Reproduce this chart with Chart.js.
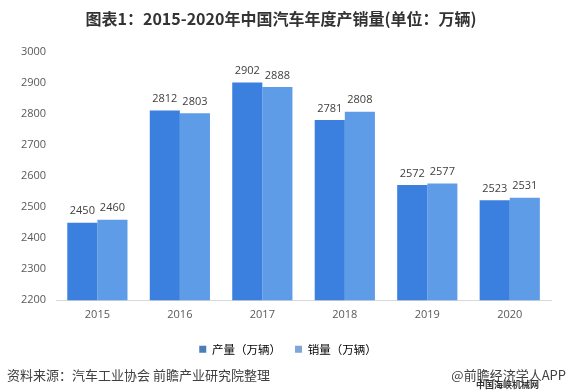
<!DOCTYPE html>
<html>
<head>
<meta charset="utf-8">
<script src="https://cdn.jsdelivr.net/npm/chart.js@4"></script>
<style>
    body { margin: 0; background: #fff; }
    #wrap { position: relative; width: 568px; height: 392px; }
    .note { position: absolute; font-family: "Noto Sans CJK SC", sans-serif; color: #404040; white-space: nowrap; }
</style>
</head>
<body>
<div id="wrap">
    <canvas id="chart" width="568" height="392"></canvas>
    <div class="note" style="left:7px; top:365px; font-size:13px;">资料来源：汽车工业协会 前瞻产业研究院整理</div>
    <div class="note" style="right:2px; top:365px; font-size:13px;">@前瞻经济学人APP</div>
    <div class="note" style="right:29px; top:379px; font-size:9px; line-height:11px; font-weight:bold; color:#333;">中国海峡机械网</div>
</div>
<script>
const anios = ['2015', '2016', '2017', '2018', '2019', '2020'];
const produccion = [2450, 2812, 2902, 2781, 2572, 2523];
const ventas = [2460, 2803, 2888, 2808, 2577, 2531];
const ticksY = [2200, 2300, 2400, 2500, 2600, 2700, 2800, 2900, 3000];

const fuenteNum = '"Open Sans", "Noto Sans", sans-serif';

// Etiquetas de valores sobre las barras
const etiquetasBarras = {
    id: 'etiquetasBarras',
    afterDatasetsDraw(chart) {
        const ctx = chart.ctx;
        ctx.save();
        ctx.font = '11px ' + fuenteNum;
        ctx.fillStyle = '#404040';
        ctx.textAlign = 'center';
        ctx.textBaseline = 'bottom';
        chart.data.datasets.forEach((ds, i) => {
            chart.getDatasetMeta(i).data.forEach((bar, j) => {
                ctx.fillText(ds.data[j], bar.x, bar.y - 6);
            });
        });
        ctx.restore();
    }
};

// Mover un poco la leyenda a la derecha
const moverLeyenda = {
    id: 'moverLeyenda',
    afterLayout(chart) {
        const l = chart.legend;
        l.left += 7; l.right += 7;
    }
};

new Chart(document.getElementById('chart'), {
    type: 'bar',
    data: {
        labels: anios,
        datasets: [
            { label: '产量（万辆）', data: produccion, backgroundColor: '#3b7fdf' },
            { label: '销量（万辆）', data: ventas, backgroundColor: '#5f9ce8' }
        ]
    },
    options: {
        responsive: false,
        animation: false,
        categoryPercentage: 0.73,
        barPercentage: 1.0,
        layout: { padding: { left: 11, right: 17, top: 0, bottom: 27 } },
        scales: {
            x: {
                grid: { display: false, drawTicks: false },
                border: { color: '#d9d9d9' },
                ticks: { color: '#595959', font: { size: 11, family: fuenteNum }, padding: 8 }
            },
            y: {
                min: 2200,
                max: 3000,
                afterBuildTicks: axis => { axis.ticks = ticksY.map(v => ({ value: v })); },
                grid: { display: false, drawTicks: false },
                border: { display: false },
                ticks: { color: '#595959', font: { size: 11, family: fuenteNum }, padding: 10, callback: v => String(v) }
            }
        },
        plugins: {
            title: {
                display: true,
                text: '图表1：2015-2020年中国汽车年度产销量(单位：万辆)',
                color: '#333',
                font: { size: 16, weight: 'bold', family: '"Noto Sans CJK SC", sans-serif' },
                padding: { top: 9, bottom: 24 }
            },
            legend: {
                position: 'bottom',
                labels: {
                    color: '#595959',
                    font: { size: 11.5, family: '"Noto Sans CJK SC", sans-serif' },
                    boxWidth: 7,
                    boxHeight: 7,
                    padding: 14,
                    generateLabels: chart => chart.data.datasets.map((ds, i) => ({
                        text: ds.label,
                        fillStyle: i === 0 ? '#4a7ebb' : '#7ea6d6',
                        strokeStyle: 'transparent',
                        lineWidth: 0,
                        datasetIndex: i
                    }))
                }
            },
            tooltip: { enabled: false }
        }
    },
    plugins: [etiquetasBarras, moverLeyenda]
});
</script>
</body>
</html>
